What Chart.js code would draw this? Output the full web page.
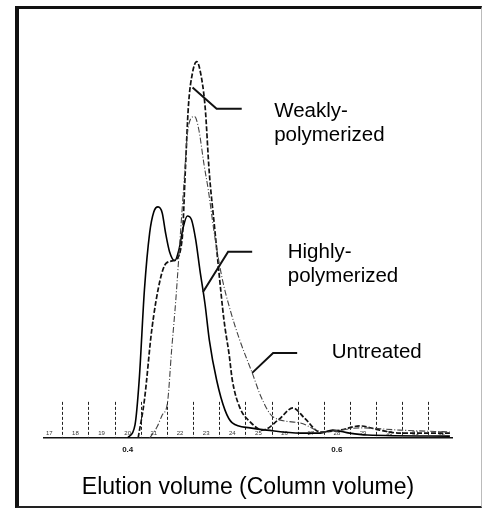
<!DOCTYPE html>
<html>
<head>
<meta charset="utf-8">
<script src="https://cdn.jsdelivr.net/npm/chart.js@4.4.1/dist/chart.umd.min.js"></script>
<style>
    html, body { margin: 0; padding: 0; background: #fff; }
    #wrap { position: relative; width: 483px; height: 516px; overflow: hidden; }
    #marco {
        position: absolute; left: 15px; top: 6px; width: 467px; height: 502px;
        box-sizing: border-box;
        border-left: 4px solid #111; border-top: 3px solid #111;
        border-right: 1px solid #bbb; border-bottom: 2px solid #222;
    }
    #grafico { position: absolute; left: 0; top: 0; }
</style>
</head>
<body>
<div id="wrap">
    <div id="marco"></div>
    <canvas id="grafico" width="483" height="516"></canvas>
</div>
<script>
// volumen de elución (volumen de columna) y absorbancia relativa
const xDebil = [0.410, 0.416, 0.423, 0.431, 0.437, 0.445, 0.452, 0.455, 0.458, 0.462, 0.466, 0.469, 0.474, 0.478, 0.483, 0.487, 0.492, 0.497, 0.500, 0.507, 0.517, 0.529, 0.544, 0.558, 0.569, 0.584, 0.603, 0.622, 0.641, 0.660, 0.708];
const yDebil = [0, 0.101, 0.287, 0.420, 0.465, 0.473, 0.527, 0.705, 0.880, 0.971, 1.000, 0.979, 0.880, 0.705, 0.561, 0.447, 0.314, 0.221, 0.154, 0.082, 0.043, 0.021, 0.048, 0.080, 0.053, 0.016, 0.021, 0.032, 0.021, 0.013, 0.013];

const xSinTratar = [0.421, 0.428, 0.433, 0.438, 0.442, 0.446, 0.450, 0.454, 0.457, 0.461, 0.464, 0.468, 0.473, 0.477, 0.483, 0.490, 0.498, 0.507, 0.519, 0.528, 0.539, 0.565, 0.587, 0.603, 0.622, 0.660, 0.708];
const ySinTratar = [0, 0.029, 0.061, 0.093, 0.234, 0.367, 0.527, 0.686, 0.806, 0.851, 0.854, 0.819, 0.726, 0.660, 0.540, 0.428, 0.340, 0.261, 0.173, 0.106, 0.056, 0.040, 0.016, 0.021, 0.027, 0.021, 0.016];

const xAlto = [0.400, 0.407, 0.411, 0.416, 0.421, 0.425, 0.429, 0.433, 0.436, 0.440, 0.445, 0.449, 0.453, 0.457, 0.461, 0.465, 0.469, 0.474, 0.478, 0.485, 0.493, 0.500, 0.517, 0.533, 0.565, 0.584, 0.596, 0.612, 0.629, 0.708];
const yAlto = [0, 0.035, 0.154, 0.394, 0.545, 0.601, 0.614, 0.598, 0.548, 0.495, 0.471, 0.500, 0.559, 0.590, 0.580, 0.527, 0.447, 0.354, 0.261, 0.154, 0.074, 0.040, 0.027, 0.021, 0.013, 0.013, 0.021, 0.013, 0.008, 0.005];

const ticksX = [0.4, 0.6];
const tituloX = 'Elution volume (Column volume)';

// líneas de fracción (colector) y sus números
const bordesFraccion = [0.3375, 0.3625, 0.3875, 0.4125, 0.4375, 0.4625, 0.4875, 0.5125, 0.5375, 0.5625, 0.5875, 0.6125, 0.6375, 0.6625, 0.6875];
const etiquetasFraccion = ['17', '18', '19', '20', '21', '22', '23', '24', '25', '26', '27', '28', '29', '30', '31', '32'];
const altoFraccion = 0.096;

// rótulos con su línea guía (coordenadas de datos)
const textosRotulo = [['Weakly-', 'polymerized'], ['Highly-', 'polymerized'], ['Untreated']];
const anclasRotulo = [[0.540, 0.854], [0.553, 0.479], [0.595, 0.213]];
const guiasRotulo = [
    [[0.462, 0.931], [0.485, 0.875], [0.509, 0.875]],
    [[0.472, 0.388], [0.496, 0.495], [0.519, 0.495]],
    [[0.519, 0.173], [0.539, 0.226], [0.562, 0.226]]
];

const juntar = (xs, ys) => xs.map((x, i) => ({ x, y: ys[i] }));

const pluginFracciones = {
    id: 'fracciones',
    beforeDatasetsDraw(chart) {
        const { ctx, scales: { x, y } } = chart;
        const y0 = y.getPixelForValue(0);
        const y1 = y.getPixelForValue(altoFraccion);
        ctx.save();
        ctx.strokeStyle = '#222';
        ctx.lineWidth = 1;
        ctx.setLineDash([3, 2]);
        bordesFraccion.forEach(v => {
            const px = Math.round(x.getPixelForValue(v)) + 0.5;
            ctx.beginPath();
            ctx.moveTo(px, y1);
            ctx.lineTo(px, y0);
            ctx.stroke();
        });
        ctx.setLineDash([]);
        ctx.fillStyle = '#333';
        ctx.font = '6px "Liberation Sans", Arial, sans-serif';
        ctx.textAlign = 'center';
        ctx.textBaseline = 'alphabetic';
        const paso = bordesFraccion[1] - bordesFraccion[0];
        etiquetasFraccion.forEach((t, i) => {
            let v;
            if (i === 0) v = bordesFraccion[0] - paso / 2;
            else if (i >= bordesFraccion.length) v = bordesFraccion[bordesFraccion.length - 1] + paso / 2;
            else v = (bordesFraccion[i - 1] + bordesFraccion[i]) / 2;
            ctx.fillText(t, x.getPixelForValue(v), y0 - 3);
        });
        ctx.restore();
    }
};

const pluginRotulos = {
    id: 'rotulos',
    afterDatasetsDraw(chart) {
        const { ctx, scales: { x, y } } = chart;
        ctx.save();
        ctx.strokeStyle = '#111';
        ctx.lineWidth = 2;
        guiasRotulo.forEach(guia => {
            ctx.beginPath();
            guia.forEach(([gx, gy], i) => {
                const px = x.getPixelForValue(gx);
                const py = y.getPixelForValue(gy);
                if (i === 0) ctx.moveTo(px, py); else ctx.lineTo(px, py);
            });
            ctx.stroke();
        });
        ctx.fillStyle = '#000';
        ctx.font = '20.5px "Liberation Sans", Arial, sans-serif';
        ctx.textAlign = 'left';
        ctx.textBaseline = 'alphabetic';
        textosRotulo.forEach((lineas, i) => {
            const px = x.getPixelForValue(anclasRotulo[i][0]);
            const py = y.getPixelForValue(anclasRotulo[i][1]);
            lineas.forEach((t, j) => ctx.fillText(t, px, py + j * 24));
        });
        ctx.restore();
    }
};

new Chart(document.getElementById('grafico'), {
    type: 'line',
    data: {
        datasets: [
            {
                label: 'Untreated',
                data: juntar(xSinTratar, ySinTratar),
                borderColor: '#444',
                borderWidth: 1.1,
                borderDash: [6, 2, 1, 2],
                pointRadius: 0,
                cubicInterpolationMode: 'monotone'
            },
            {
                label: 'Weakly-polymerized',
                data: juntar(xDebil, yDebil),
                borderColor: '#111',
                borderWidth: 1.7,
                borderDash: [5, 2],
                pointRadius: 0,
                cubicInterpolationMode: 'monotone'
            },
            {
                label: 'Highly-polymerized',
                data: juntar(xAlto, yAlto),
                borderColor: '#000',
                borderWidth: 1.6,
                pointRadius: 0,
                cubicInterpolationMode: 'monotone'
            }
        ]
    },
    options: {
        responsive: false,
        animation: false,
        devicePixelRatio: 1,
        layout: { padding: { top: 24, left: 44, right: 31, bottom: 10 } },
        plugins: {
            legend: { display: false },
            tooltip: { enabled: false }
        },
        scales: {
            x: {
                type: 'linear',
                min: 0.32,
                max: 0.71,
                afterBuildTicks: scale => { scale.ticks = ticksX.map(v => ({ value: v })); },
                afterFit: scale => { scale.height = 68; },
                ticks: {
                    color: '#111',
                    padding: 7,
                    font: { size: 8, weight: 'bold', family: '"Liberation Sans", Arial, sans-serif' },
                    callback: v => v.toFixed(1)
                },
                grid: { drawOnChartArea: false, drawTicks: false },
                border: { display: true, color: '#111', width: 1.5, dash: [3, 1] },
                title: {
                    display: true,
                    text: tituloX,
                    color: '#000',
                    font: { size: 23, family: '"Liberation Sans", Arial, sans-serif', lineHeight: 1.2 },
                    padding: { top: 0, bottom: 5 }
                }
            },
            y: {
                display: false,
                min: 0,
                max: 1.1
            }
        }
    },
    plugins: [pluginFracciones, pluginRotulos]
});
</script>
</body>
</html>
